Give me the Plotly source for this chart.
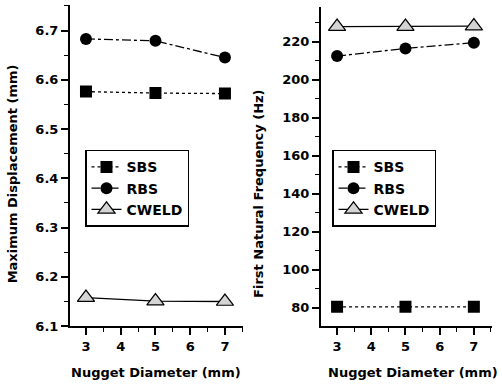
import plotly.graph_objects as go

diam = [3, 5, 7]
disp_sbs = [6.576, 6.573, 6.572]
disp_rbs = [6.683, 6.679, 6.645]
disp_cweld = [6.158, 6.151, 6.150]
freq_sbs = [80.5, 80.5, 80.5]
freq_rbs = [212.5, 216.5, 219.5]
freq_cweld = [228.0, 228.0, 228.3]
names = ["SBS", "RBS", "CWELD"]

FONT = "DejaVu Sans"
fig = go.Figure()

def add_series(xa, ya, vals, legend):
    styles = [
        dict(line=dict(color="black", width=1.3, dash="dot"),
             marker=dict(symbol="square", size=12, color="black")),
        dict(line=dict(color="black", width=1.3, dash="dashdot"),
             marker=dict(symbol="circle", size=12, color="black")),
        dict(line=dict(color="black", width=1.3, dash="solid"),
             marker=dict(symbol="triangle-up", size=15, color="#d4d4d4",
                         line=dict(color="black", width=1.2))),
    ]
    for v, n, s in zip(vals, names, styles):
        fig.add_trace(go.Scatter(x=diam, y=v, name=n, mode="lines+markers",
                                 xaxis=xa, yaxis=ya, legend=legend, **s))

add_series("x", "y", [disp_sbs, disp_rbs, disp_cweld], "legend")
add_series("x2", "y2", [freq_sbs, freq_rbs, freq_cweld], "legend2")

tickf = dict(family=FONT, size=13, color="black", weight="bold")
axis_common = dict(showline=True, linecolor="black", linewidth=2, ticks="outside",
                   tickcolor="black", tickwidth=1.5, ticklen=7, showgrid=False,
                   zeroline=False, tickfont=tickf, mirror=False)
minor_common = dict(ticks="outside", ticklen=4, tickcolor="black", tickwidth=1.2)
title_font = dict(family=FONT, size=13, color="black", weight="bold")
legend_font = dict(family=FONT, size=14, color="black", weight="bold")

fig.update_layout(
    width=502, height=389, margin=dict(l=0, r=0, t=0, b=0),
    paper_bgcolor="white", plot_bgcolor="white",
    xaxis=dict(domain=[70 / 502, 243 / 502], range=[2.54, 7.52], tickvals=[3, 4, 5, 6, 7],
               minor=dict(dtick=0.5, **minor_common), anchor="y", **axis_common),
    yaxis=dict(domain=[1 - 333 / 389, 1 - 5 / 389], range=[6.1, 6.752], dtick=0.1, tickformat=".1f",
               minor=dict(dtick=0.05, **minor_common), anchor="x", **axis_common),
    xaxis2=dict(domain=[321 / 502, 492 / 502], range=[2.53, 7.53], tickvals=[3, 4, 5, 6, 7],
                minor=dict(dtick=0.5, **minor_common), anchor="y2", **axis_common),
    yaxis2=dict(domain=[1 - 333 / 389, 1 - 7 / 389], range=[70.3, 238.4],
                tickvals=[80, 100, 120, 140, 160, 180, 200, 220],
                minor=dict(dtick=10, **minor_common), anchor="x2", **axis_common),
    legend=dict(x=85 / 502, y=1 - 153 / 389, xanchor="left", yanchor="top", bordercolor="black",
                borderwidth=1.5, bgcolor="white", font=legend_font,
                tracegroupgap=0, itemwidth=30),
    legend2=dict(x=332 / 502, y=1 - 153 / 389, xanchor="left", yanchor="top", bordercolor="black",
                 borderwidth=1.5, bgcolor="white", font=legend_font,
                 tracegroupgap=0, itemwidth=30),
    annotations=[
        dict(text="Maximum Displacement (mm)", x=12 / 502, y=1 - 178 / 389, xref="paper", yref="paper",
             xanchor="center", yanchor="middle", textangle=-90, showarrow=False, font=title_font),
        dict(text="First Natural Frequency (Hz)", x=259 / 502, y=1 - 198 / 389, xref="paper", yref="paper",
             xanchor="center", yanchor="middle", textangle=-90, showarrow=False, font=title_font),
        dict(text="Nugget Diameter (mm)", x=156 / 502, y=1 - 380 / 389, xref="paper", yref="paper",
             xanchor="center", yanchor="middle", showarrow=False, font=title_font),
        dict(text="Nugget Diameter (mm)", x=413 / 502, y=1 - 380 / 389, xref="paper", yref="paper",
             xanchor="center", yanchor="middle", showarrow=False, font=title_font),
    ],
)

fig.write_html("out.html", config={"displayModeBar": False},
               post_script="document.body.style.margin='0';document.body.style.overflow='hidden';")
